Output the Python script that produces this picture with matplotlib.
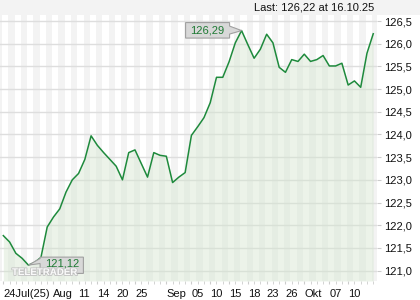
import matplotlib
matplotlib.use("Agg")
import matplotlib.pyplot as plt
import matplotlib.patheffects as pe
from matplotlib.patches import Rectangle, Polygon
from matplotlib.transforms import Affine2D, ScaledTranslation

# closing prices, one per trading day (25 Jul 2025 .. 16 Oct 2025)
prices = [121.77, 121.63, 121.38, 121.27, 121.12, 121.18, 121.29, 121.96, 122.18, 122.36,
          122.73, 123.00, 123.14, 123.45, 123.97, 123.76, 123.60, 123.45, 123.30, 123.00,
          123.60, 123.66, 123.36, 123.06, 123.60, 123.54, 123.52, 122.94, 123.06, 123.16,
          123.98, 124.17, 124.37, 124.70, 125.26, 125.26, 125.60, 126.02, 126.29, 125.98,
          125.68, 125.88, 126.21, 126.02, 125.48, 125.37, 125.65, 125.61, 125.77, 125.61,
          125.65, 125.74, 125.51, 125.51, 125.57, 125.09, 125.18, 125.04, 125.79, 126.22]

x_tick_pos = [0, 8, 12, 15, 18, 21, 26, 30, 33, 36, 39, 42, 45, 48, 52, 55]
x_tick_labels = ["24Jul(25)", "Aug", "11", "14", "20", "25", "Sep", "05", "10",
                 "15", "18", "23", "26", "Okt", "07", "10"]
y_ticks = [121.0, 121.5, 122.0, 122.5, 123.0, 123.5, 124.0, 124.5, 125.0, 125.5, 126.0, 126.5]
y_tick_labels = ["121,0", "121,5", "122,0", "122,5", "123,0", "123,5",
                 "124,0", "124,5", "125,0", "125,5", "126,0", "126,5"]
last_text = "Last: 126,22 at 16.10.25"

plt.rcParams['font.family'] = ['Liberation Sans', 'DejaVu Sans']

fig = plt.figure(figsize=(4.2, 3.0), dpi=100)
fig.patches.append(Rectangle((0, 1 - 14.7 / 300), 1, 14.7 / 300, transform=fig.transFigure,
                             facecolor='#f3f3f3', edgecolor='none', zorder=0))
ax = fig.add_axes([0, 1 - 281 / 300, 377 / 420, (281 - 14.7) / 300])

xs = list(range(len(prices)))
ax.set_xlim(-0.53, 59.6)
ax.set_ylim(120.77, 126.64)

# alternating day stripes
for k in range(-1, 31):
    ax.axvspan(2 * k + 0.8, 2 * k + 1.8, color='#f3f3f3', lw=0, zorder=0)
for y in y_ticks:
    ax.axhline(y, color='#dedede', lw=1, zorder=1)

ax.fill_between(xs, prices, 120.77, color='#d5e6d0', alpha=0.45, lw=0, zorder=2)
ax.plot(xs, prices, color='#1e8a3c', lw=1.1, zorder=3)


def callout(ix, shape, text_dx, text_dy):
    # box + pointer drawn in pixel offsets around the data point
    trans = Affine2D() + ScaledTranslation(ix, prices[ix], ax.transData)
    ax.add_patch(Polygon(shape, closed=True, transform=trans, fc='#d8d8d8', ec='#a0a0a0',
                         lw=0.8, zorder=5, clip_on=False))
    ax.text(text_dx, text_dy, f"{prices[ix]:.2f}".replace('.', ','), transform=trans,
            ha='center', va='center', fontsize=8, color='#1e7a34', zorder=8)


hi = prices.index(max(prices))
lo = prices.index(min(prices))
callout(hi, [(0, 0), (-12, -3.5), (-12, -7.5), (-56, -7.5), (-56, 8), (-12, 8), (-12, 4.5)], -34, 0)
callout(lo, [(0, 0), (11.7, 1.6), (11.7, -8.3), (55, -8.3), (55, 8), (11.7, 8), (11.7, 6.6)], 33.5, 1.5)

# watermark
ax.text(12 / 377, (281 - 277) / 266.3, "TELETRADER", transform=ax.transAxes,
        fontsize=7, fontweight='bold', color='white', ha='left', va='bottom', zorder=7,
        alpha=0.9, path_effects=[pe.withStroke(linewidth=1.4, foreground='#c4c4c4')])

ax.set_xticks(x_tick_pos)
ax.set_xticklabels(x_tick_labels, ha='left')
ax.set_xticks(xs, minor=True)
ax.tick_params(axis='x', which='both', length=2.5, color='#cccccc', labelsize=8, pad=3,
               labelcolor='#111111')
ax.yaxis.tick_right()
ax.set_yticks(y_ticks)
ax.set_yticklabels(y_tick_labels)
ax.tick_params(axis='y', length=3, color='#cccccc', labelsize=8, pad=2, labelcolor='#111111')
for s in ax.spines.values():
    s.set_visible(False)

fig.text(374 / 420, 1 - 7 / 300, last_text, ha='right', va='center', fontsize=8, color='#111111')

fig.savefig("out.png", dpi=100)
